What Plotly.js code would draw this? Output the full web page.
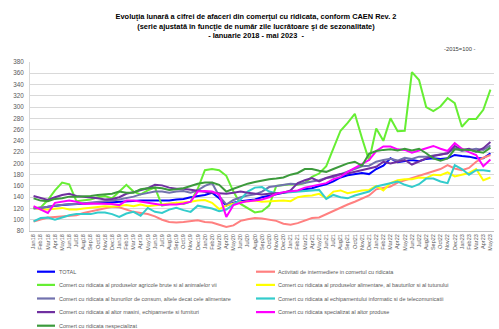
<!DOCTYPE html>
<html>
<head>
<meta charset="utf-8">
<script src="https://cdn.plot.ly/plotly-3.0.1.min.js"></script>
<style>html,body{margin:0;padding:0;background:#fff;}#chart{width:499px;height:329px;}</style>
</head>
<body>
<div id="chart"></div>
<script>
// ---- Data ----
var months = ["Jan18","Feb18","Mar18","Apr18","May18","Jun18","Jul18","Aug18","Sep18","Oct18","Nov18","Dec18",
"Jan19","Feb19","Mar19","Apr19","May19","Jun19","Jul19","Aug19","Sep19","Oct19","Nov19","Dec19",
"Jan20","Feb20","Mar20","Apr20","May20","Jun20","Jul20","Aug20","Sep20","Oct20","Nov20","Dec20",
"Jan21","Feb21","Mar21","Apr21","May21","Jun21","Jul21","Aug21","Sep21","Oct21","Nov21","Dec21",
"Jan22","Feb22","Mar22","Apr22","May22","Jun22","Jul22","Aug22","Sep22","Oct22","Nov22","Dec22",
"Jan23","Feb23","Mar23","Apr23","May23"];

var seriesNames = [
 "TOTAL",
 "Activitati de intermediere in comertul cu ridicata",
 "Comert cu ridicata al produselor agricole brute si al animalelor vii",
 "Comert cu ridicata al produselor alimentare, al bauturilor si al tutunului",
 "Comert cu ridicata al bunurilor de consum, altele decat cele alimentare",
 "Comert cu ridicata al echipamentului informatic si de telecomunicatii",
 "Comert cu ridicata al altor masini, echipamente si furnituri",
 "Comert cu ridicata specializat al altor produse",
 "Comert cu ridicata nespecializat"
];

var total = [121,120,123,125,126,127,128,128,129,130,130,131,132,132,133,134,134,134,134,134,136,137,140,142,144,148,138,125,130,133,135,136,140,143,146,148,150,151,154,156,160,163,168,175,179,181,183,181,190,196,209,202,204,206,204,208,209,208,209,215,213,212,209,209,218];
var intermediere = [97,101,104,105,106,107,108,112,115,118,121,123,122,118,114,112,110,106,100,96,95,96,98,99,96,95,91,87,90,98,101,103,102,100,98,93,91,94,98,103,104,110,116,121,127,132,137,143,154,157,159,166,170,174,178,183,187,190,197,191,188,192,203,210,215];
var agricole = [120,122,135,152,166,163,133,134,136,140,142,138,150,162,150,145,152,157,125,128,130,128,132,155,188,190,188,178,150,128,120,113,115,125,160,162,163,162,165,176,182,195,225,258,272,288,245,205,262,240,280,257,258,362,348,300,293,301,316,307,265,279,279,295,331];
var alimentare = [121,118,118,120,121,118,118,120,121,122,124,123,125,126,124,127,124,125,127,129,130,130,132,134,135,130,119,125,129,131,132,134,132,133,133,134,133,140,142,143,146,138,150,152,147,150,152,153,160,152,165,170,172,172,175,174,180,179,184,177,180,183,190,170,175];
var consum = [120,121,123,125,127,128,128,129,130,131,132,134,136,138,141,145,148,150,150,148,150,151,148,152,160,165,142,127,135,140,143,145,150,158,160,162,164,163,166,168,170,174,176,181,186,190,195,196,203,206,208,205,210,208,212,212,214,215,218,227,222,224,226,224,232];
var informatic = [97,103,104,100,104,108,110,110,110,113,113,110,105,111,114,107,121,114,112,118,121,117,114,125,123,120,115,118,127,136,150,157,158,150,147,148,148,149,150,152,153,137,144,140,138,143,147,150,159,162,166,168,162,158,163,173,173,168,165,197,190,180,188,188,186];
var masini = [142,139,135,140,144,146,142,141,140,138,136,137,140,146,149,152,156,162,161,157,155,155,153,152,150,148,147,146,148,150,148,147,145,146,147,148,152,165,170,174,168,174,178,181,182,185,188,191,194,203,200,203,206,198,204,209,213,216,218,231,224,226,221,227,238];
var specializat = [124,118,112,130,132,134,132,128,129,129,129,128,126,134,134,132,130,129,126,127,127,129,132,150,151,150,145,105,126,130,133,134,136,140,146,149,150,152,157,160,162,165,172,176,185,192,200,206,222,230,230,225,224,219,223,227,231,226,222,236,226,220,215,195,207];
var nespecializat = [138,134,133,137,138,141,141,141,142,144,145,146,150,148,148,154,156,157,156,153,154,156,160,164,166,166,162,150,155,160,164,167,170,172,173,175,180,183,190,190,187,185,190,195,200,203,196,217,222,224,225,223,226,223,226,218,209,205,209,225,225,224,221,219,228];

var seriesValues = [total, intermediere, agricole, alimentare, consum, informatic, masini, specializat, nespecializat];
var seriesColors = ["#0000ff","#ff8080","#66ee33","#ffff00","#7272ae","#33cccc","#7030a0","#ff00ff","#3c9a3c"];
var yTicks = [80,100,120,140,160,180,200,220,240,260,280,300,320,340,360,380];

var titleLines = [
 "Evoluţia lunară a cifrei de afaceri din comerţul cu ridicata, conform CAEN Rev. 2",
 "(serie ajustată în funcţie de număr zile lucrătoare şi de sezonalitate)",
 "- Ianuarie 2018 - mai 2023  -"
];
var baseNote = "-2015=100 -";

// ---- Geometry ----
var W = 499, H = 329;
var mL = 30, mR = 5, mT = 62, mB = 98;
var pw = W - mL - mR, ph = H - mT - mB;
function px2x(px){ return (px - mL) / pw; }
function py2y(py){ return (H - mB - py) / ph; }
var FONT = "Liberation Sans, Arial, sans-serif";

var traces = seriesValues.map(function(vals, k){
  return {
    type: "scatter", mode: "lines", x: months, y: vals, name: seriesNames[k],
    line: {color: seriesColors[k], width: 2}, showlegend: false, hoverinfo: "skip"
  };
});

// manual legend (two columns)
var shapes = [], annotations = [];
var rowsY = [271.7, 284.9, 298.5, 312.1, 325.7];
seriesNames.forEach(function(n, k){
  var col = k % 2, row = Math.floor(k / 2);
  var x0 = col === 0 ? 37 : 256, x1 = col === 0 ? 55 : 275, tx = col === 0 ? 56.5 : 276;
  var py = rowsY[row];
  shapes.push({type:"line", xref:"paper", yref:"paper", x0:px2x(x0), x1:px2x(x1), y0:py2y(py), y1:py2y(py),
    line:{color:seriesColors[k], width:2.2}});
  annotations.push({xref:"paper", yref:"paper", x:px2x(tx), y:py2y(py), xanchor:"left", yanchor:"middle",
    text:n, showarrow:false, font:{family:FONT, size:5.5, color:"#595959"}});
});
annotations.push({xref:"paper", yref:"paper", x:px2x(477), y:py2y(49), xanchor:"right", yanchor:"middle",
  text:baseNote, showarrow:false, font:{family:FONT, size:5.8, color:"#404040"}});

var layout = {
  width: W, height: H,
  margin: {l: mL, r: mR, t: mT, b: mB, pad: 0},
  paper_bgcolor: "#ffffff", plot_bgcolor: "#ffffff",
  title: {text: "<b>" + titleLines.join("<br>") + "</b>", x: 0.513, xanchor: "center",
          y: 1 - 19/H, yanchor: "top", yref: "container",
          font: {family: FONT, size: 7.4, color: "#000000"}},
  xaxis: {type: "category", range: [-0.5, months.length - 0.5], tickmode: "array", tickvals: months, ticktext: months,
          tickangle: -90, tickfont: {family: FONT, size: 5.5, color: "#595959"}, showgrid: false,
          showline: true, linecolor: "#bfbfbf", linewidth: 1, ticks: "", automargin: false, fixedrange: true},
  yaxis: {range: [80, 380], tickmode: "array", tickvals: yTicks, showgrid: true, gridcolor: "#d9d9d9", gridwidth: 1,
          tickfont: {family: FONT, size: 6.3, color: "#595959"}, showline: true, linecolor: "#d9d9d9", linewidth: 1,
          ticks: "", zeroline: false, automargin: false, fixedrange: true, ticklabelstandoff: 4},
  shapes: shapes, annotations: annotations, showlegend: false
};

Plotly.newPlot("chart", traces, layout, {displayModeBar: false, staticPlot: true});
</script>
</body>
</html>
